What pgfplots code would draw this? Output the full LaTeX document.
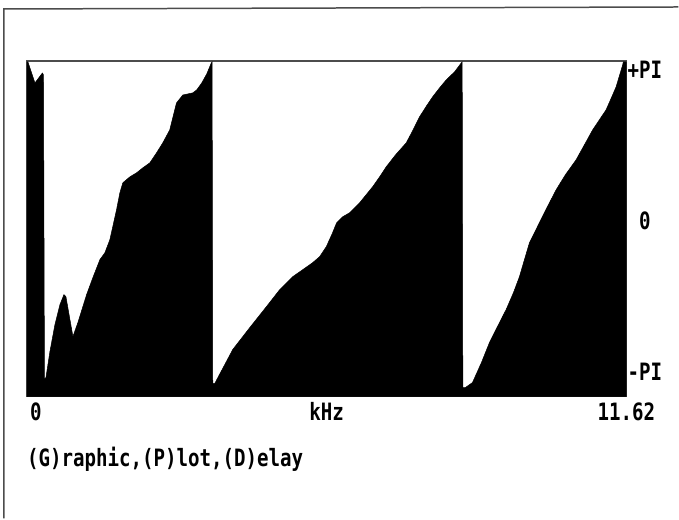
\documentclass[border=0pt]{standalone}
\usepackage{pgfplots}
\pgfplotsset{compat=1.18}
\usepackage{graphicx}
\usepackage{fontspec}
\newfontfamily\scr{DejaVu Sans Mono}
\newcommand\lbl[1]{\scalebox{0.8}[1]{\fontsize{24}{24}\selectfont\scr\bfseries #1}}
\begin{document}
\begin{tikzpicture}
\path (0,0) rectangle (679bp,519bp);
\draw[black!70, line width=1.5bp] (4bp,0bp) -- (4bp,510bp) -- (679bp,512bp);
\begin{axis}[
  at={(27bp,122bp)}, anchor=south west,
  width=600bp, height=336bp, scale only axis,
  xmin=0, xmax=11.62, ymin=-1.166, ymax=1.060,
  axis line style={black!70, line width=1.5bp},
  major tick length=0pt,
  xtick={11.62}, xticklabels={\lbl{11.62}},
  extra x ticks={0}, extra x tick labels={\lbl{0}},
  extra x tick style={xticklabel style={anchor=north west, xshift=3bp}},
  xticklabel style={anchor=north, inner sep=0pt, yshift=-6bp},
  xlabel={\lbl{kHz}},
  xlabel style={at={(axis description cs:0.5,0)}, anchor=north, inner sep=0pt, yshift=-6bp},
  ytick={-1,0,1},
  yticklabels={\lbl{-PI},\lbl{\phantom{+}0},\lbl{+PI}},
  yticklabel pos=right,
  yticklabel style={anchor=west, inner sep=0pt, xshift=1bp},
]
\addplot[fill=black, draw=black, line width=0.5bp] coordinates {
(0,-1.166) (0,1.053) (0.019,1.053) (0.155,0.914) (0.300,0.980) (0.320,0.967)
(0.339,-1.053) (0.368,-1.040) (0.445,-0.868) (0.542,-0.689) (0.639,-0.556)
(0.717,-0.490) (0.755,-0.503) (0.833,-0.656) (0.891,-0.768) (0.988,-0.675)
(1.156,-0.490) (1.278,-0.377) (1.414,-0.258) (1.511,-0.212) (1.607,-0.126)
(1.737,0.073) (1.801,0.185) (1.859,0.252) (1.995,0.291) (2.125,0.318)
(2.247,0.351) (2.382,0.384) (2.512,0.450) (2.634,0.517) (2.769,0.603)
(2.899,0.781) (3.021,0.834) (3.215,0.848) (3.292,0.868) (3.389,0.914)
(3.486,0.974) (3.573,1.046) (3.589,1.053)
(3.602,-1.079) (3.641,-1.079) (3.990,-0.854) (4.319,-0.709) (4.642,-0.570)
(4.900,-0.457) (5.152,-0.371) (5.345,-0.325) (5.539,-0.278) (5.675,-0.238)
(5.804,-0.172) (5.926,-0.079) (6.004,-0.013) (6.120,0.026) (6.256,0.053)
(6.449,0.119) (6.701,0.225) (6.837,0.291) (6.966,0.358) (7.146,0.437)
(7.354,0.517) (7.476,0.596) (7.611,0.689) (7.747,0.762) (7.863,0.821)
(7.999,0.881) (8.128,0.934) (8.289,0.987) (8.419,1.046) (8.438,1.053)
(8.450,-1.106) (8.502,-1.106) (8.638,-1.073) (8.812,-0.940) (8.967,-0.808)
(9.122,-0.702) (9.290,-0.589) (9.432,-0.477) (9.548,-0.371) (9.645,-0.258)
(9.742,-0.146) (9.935,-0.013) (10.090,0.093) (10.259,0.205) (10.439,0.305)
(10.646,0.404) (10.807,0.503) (10.968,0.603) (11.097,0.669) (11.227,0.735)
(11.330,0.815) (11.421,0.887) (11.485,0.960) (11.549,1.033) (11.562,1.053)
(11.62,1.053) (11.62,-1.166)
} -- cycle;
\end{axis}
\node[anchor=base west, inner sep=0pt] at (27bp,52bp) {\lbl{(G)raphic,(P)lot,(D)elay}};
\end{tikzpicture}
\end{document}
